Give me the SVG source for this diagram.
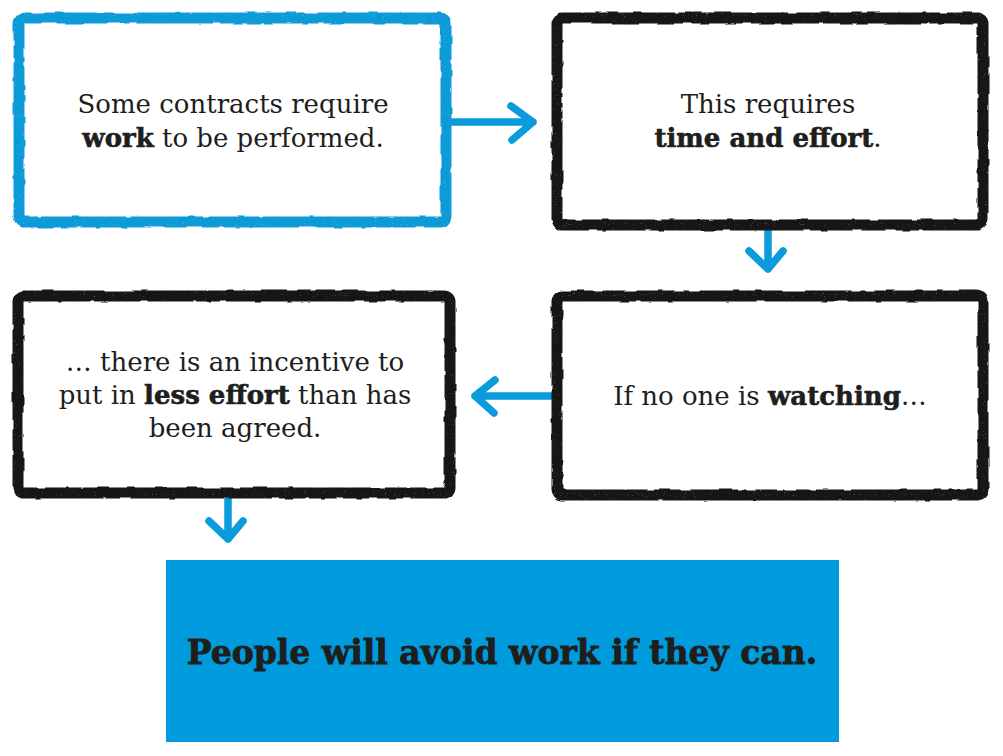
<svg xmlns="http://www.w3.org/2000/svg" width="1003" height="756" viewBox="0 0 1003 756">
<defs>
<filter id="crayon" x="-5%" y="-5%" width="110%" height="110%">
<feTurbulence type="fractalNoise" baseFrequency="0.06" numOctaves="2" seed="3" result="warp"/>
<feDisplacementMap in="SourceGraphic" in2="warp" scale="3.5" xChannelSelector="R" yChannelSelector="G" result="d"/>
<feTurbulence type="fractalNoise" baseFrequency="1.1" numOctaves="1" seed="7" result="grain"/>
<feColorMatrix in="grain" type="matrix" values="0 0 0 0 0  0 0 0 0 0  0 0 0 0 0  0 0 0 -2.5 2.7" result="mask"/>
<feComposite in="d" in2="mask" operator="in"/>
</filter>
<style>
.box{fill:#fff;stroke-width:11;stroke-linejoin:round;filter:url(#crayon)}
.blue{stroke:#0e9ad8}
.black{stroke:#161614}
.t{font-family:"DejaVu Serif","Liberation Serif",serif;font-size:26px;fill:#1e1e1c;text-anchor:middle}
.b{font-weight:bold;stroke:#1e1e1c;stroke-width:0.6}
.arrow{fill:none;stroke:#0a9bdc;stroke-width:7.5;stroke-linecap:round;stroke-linejoin:round}
.final{font-family:"DejaVu Serif","Liberation Serif",serif;font-size:33px;font-weight:bold;fill:#1e1e1c;stroke:#1e1e1c;stroke-width:0.8;text-anchor:middle}
</style>
</defs>
<rect width="1003" height="756" fill="#fff"/>
<g id="connectors">
<path class="arrow" d="M452 122 H533 M511 106 L533 122 L512 140"/>
<path class="arrow" d="M768 228 V269 M749 251 L768 269 L783 251"/>
<path class="arrow" d="M553 396 H475 M495 380 L475 396 L494 413"/>
<path class="arrow" d="M228 497 V539 M209 521 L228 539 L243 521"/>
</g>
<g id="node1">
<rect class="box blue" x="19" y="18" width="427" height="204" rx="6"/>
<text class="t" x="233" y="113" font-size="25.5">Some contracts require</text>
<text class="t" x="233" y="147" font-size="25.5"><tspan class="b">work</tspan> to be performed.</text>
</g>
<g id="node2">
<rect class="box black" x="557" y="18" width="426" height="207" rx="6"/>
<text class="t" x="768" y="113">This requires</text>
<text class="t" x="768" y="147"><tspan class="b">time and effort</tspan>.</text>
</g>
<g id="node3">
<rect class="box black" x="18" y="296" width="432" height="197" rx="6"/>
<text class="t" x="235" y="371">… there is an incentive to</text>
<text class="t" x="235" y="404">put in <tspan class="b">less effort</tspan> than has</text>
<text class="t" x="235" y="437">been agreed.</text>
</g>
<g id="node4">
<rect class="box black" x="557" y="296" width="426" height="199" rx="6"/>
<text class="t" x="770" y="405">If no one is <tspan class="b">watching</tspan>…</text>
</g>
<g id="node5">
<rect x="166" y="560" width="673" height="182" fill="#009bdc"/>
<text class="final" x="502" y="664">People will avoid work if they can.</text>
</g>
</svg>
